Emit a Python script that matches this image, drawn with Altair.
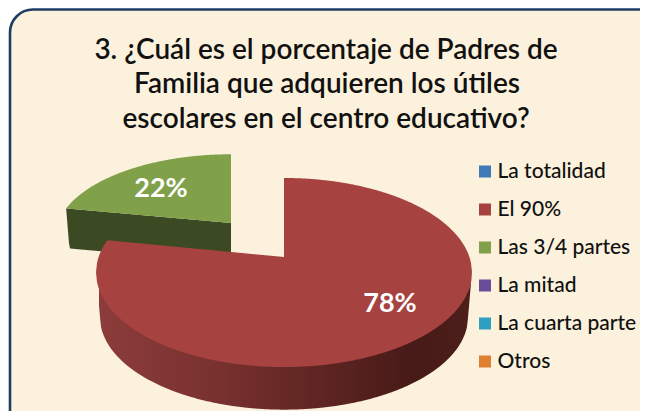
import numpy as np
import pandas as pd
import altair as alt

categories = ["La totalidad", "El 90%", "Las 3/4 partes", "La mitad", "La cuarta parte", "Otros"]
shares = [0, 78, 22, 0, 0, 0]
colors = ["#4179B6", "#A64240", "#80A04A", "#6A4D9A", "#2F9FC2", "#DE802F"]
title_lines = ["3. ¿Cuál es el porcentaje de Padres de",
               "Familia que adquieren los útiles",
               "escolares en el centro educativo?"]

XS = alt.Scale(domain=[8, 640], nice=False, zero=False)
YS = alt.Scale(domain=[411, 8], nice=False, zero=False)
K = 0.164


def rim(theta, x0, y0, a, b):
    u, v = np.sin(theta), np.cos(theta)
    w = 1 + K * v
    return x0 + a * u / w, y0 - b * v / w


def sector(start, end, x0, y0, a, b):
    th = np.radians(np.linspace(start * 3.6, end * 3.6, 240))
    x, y = rim(th, x0, y0, a, b)
    return np.r_[x0, x], np.r_[y0, y]


def raster(px, py):
    ex = np.unique(np.r_[np.arange(np.ceil(px.min()), px.max(), 1.0),
                         px.min() + 0.01, px.max() - 0.01, px[0] - 0.02, px[0] + 0.02])
    lo, hi, xs = [], [], []
    qx, qy = np.r_[px, px[0]], np.r_[py, py[0]]
    for x in ex:
        hit = []
        for i in range(len(px)):
            x1, x2, y1, y2 = qx[i], qx[i + 1], qy[i], qy[i + 1]
            if min(x1, x2) <= x <= max(x1, x2) and x1 != x2:
                hit.append(y1 + (x - x1) / (x2 - x1) * (y2 - y1))
        if hit:
            xs.append(x); lo.append(min(hit)); hi.append(max(hit))
    return np.array(xs), np.array(lo), np.array(hi)


def frame(px, py, cat=None):
    x, lo, hi = raster(px, py)
    d = pd.DataFrame({"x": x, "y": lo, "y2": hi})
    if cat is not None:
        d["cat"] = cat
    return d


def area(d, **kw):
    return alt.Chart(d).mark_area(interpolate="linear", **kw).encode(
        x=alt.X("x:Q", scale=XS, axis=None),
        y=alt.Y("y:Q", scale=YS, axis=None, stack=None),
        y2="y2:Q",
    )


cum = np.cumsum([0] + shares)
red_s, red_e = cum[1], cum[2]
grn_s, grn_e = cum[2], cum[3]

RED = dict(x0=284, y0=257, a=185.4, b=92)
GRN = dict(x0=231, y0=223, a=173, b=80)

# red top face and side wall
rx, ry = sector(red_s, red_e, **RED)
top_red = frame(rx, ry, categories[1])
lx, ly = sector(red_s, red_e, 284, 302, 181.5, 90)
low = frame(lx, ly)
xs = top_red["x"].values
lo_x = np.r_[top_red["x"].min(), low["x"].values, top_red["x"].max()]
lo_y = np.r_[272, low["y2"].values, 272]
wall_red = pd.DataFrame({"x": xs, "y": top_red["y2"].values - 1.5,
                         "y2": np.interp(xs, lo_x, lo_y)})
wall_red = wall_red[wall_red["x"] > 98.5]

# green top face and cut wall
gx, gy = sector(grn_s, grn_e, **GRN)
top_grn = frame(gx, gy, categories[2])
th = np.radians(grn_s * 3.6)
ex, ey = rim(th, GRN["x0"], GRN["y0"], GRN["a"], GRN["b"])
ex2, ey2 = rim(th, GRN["x0"], GRN["y0"] + 40, GRN["a"] * 0.98, GRN["b"])
wall_grn = frame(np.array([GRN["x0"], ex, ex2, GRN["x0"]]),
                 np.array([GRN["y0"], ey, ey2, GRN["y0"] + 40]))

bg = alt.Chart(pd.DataFrame({"x": [10], "x2": [670], "y": [9.5], "y2": [440]})).mark_rect(
    fill="#FCF1DC", stroke="#1F3D63", strokeWidth=2.6, cornerRadius=23, clip=True
).encode(x=alt.X("x:Q", scale=XS, axis=None), x2="x2:Q",
         y=alt.Y("y:Q", scale=YS, axis=None), y2="y2:Q")

red_grad = alt.Gradient(gradient="linear", x1=0, x2=1, y1=0, y2=0, stops=[
    alt.GradientStop(color="#8C3C3A", offset=0),
    alt.GradientStop(color="#7A3230", offset=0.3),
    alt.GradientStop(color="#5C2421", offset=0.62),
    alt.GradientStop(color="#461A17", offset=0.85),
    alt.GradientStop(color="#4E1F1B", offset=1),
])

color = alt.Color("cat:N", scale=alt.Scale(domain=categories, range=colors),
                  legend=alt.Legend(orient="none", legendX=466.5, legendY=153, title=None,
                                    symbolType="square", symbolSize=144, symbolStrokeWidth=0,
                                    labelFont="Lato", labelFontSize=21, labelFontWeight=500,
                                    labelColor="#111111", rowPadding=16, labelOffset=2,
                                    labelLimit=170))

tops = pd.concat([top_grn, top_red])
top_layer = area(tops).encode(color=color)

title_df = pd.DataFrame({"t": title_lines, "x": [326, 327, 326], "y": [51, 85, 120]})
titles = alt.Chart(title_df).mark_text(font="Lato", fontSize=28, fontWeight=600,
                                       color="#111111", align="center", baseline="middle").encode(
    x=alt.X("x:Q", scale=XS, axis=None), y=alt.Y("y:Q", scale=YS, axis=None), text="t:N")

label_df = pd.DataFrame({"t": [f"{shares[2]}%", f"{shares[1]}%"], "x": [161, 390], "y": [189, 304]})
labels = alt.Chart(label_df).mark_text(font="Lato", fontSize=27, fontWeight=700,
                                       color="#FFFFFF", align="center", baseline="middle").encode(
    x=alt.X("x:Q", scale=XS, axis=None), y=alt.Y("y:Q", scale=YS, axis=None), text="t:N")

chart = alt.layer(
    bg,
    area(wall_grn, color="#3B4A22"),
    area(wall_red, color=red_grad),
    top_layer,
    titles,
    labels,
).properties(width=632, height=403, padding=0,
             autosize=alt.AutoSizeParams(type="none")).configure_view(stroke=None)

chart.save("out.html", embed_options={"renderer": "svg", "actions": False})
